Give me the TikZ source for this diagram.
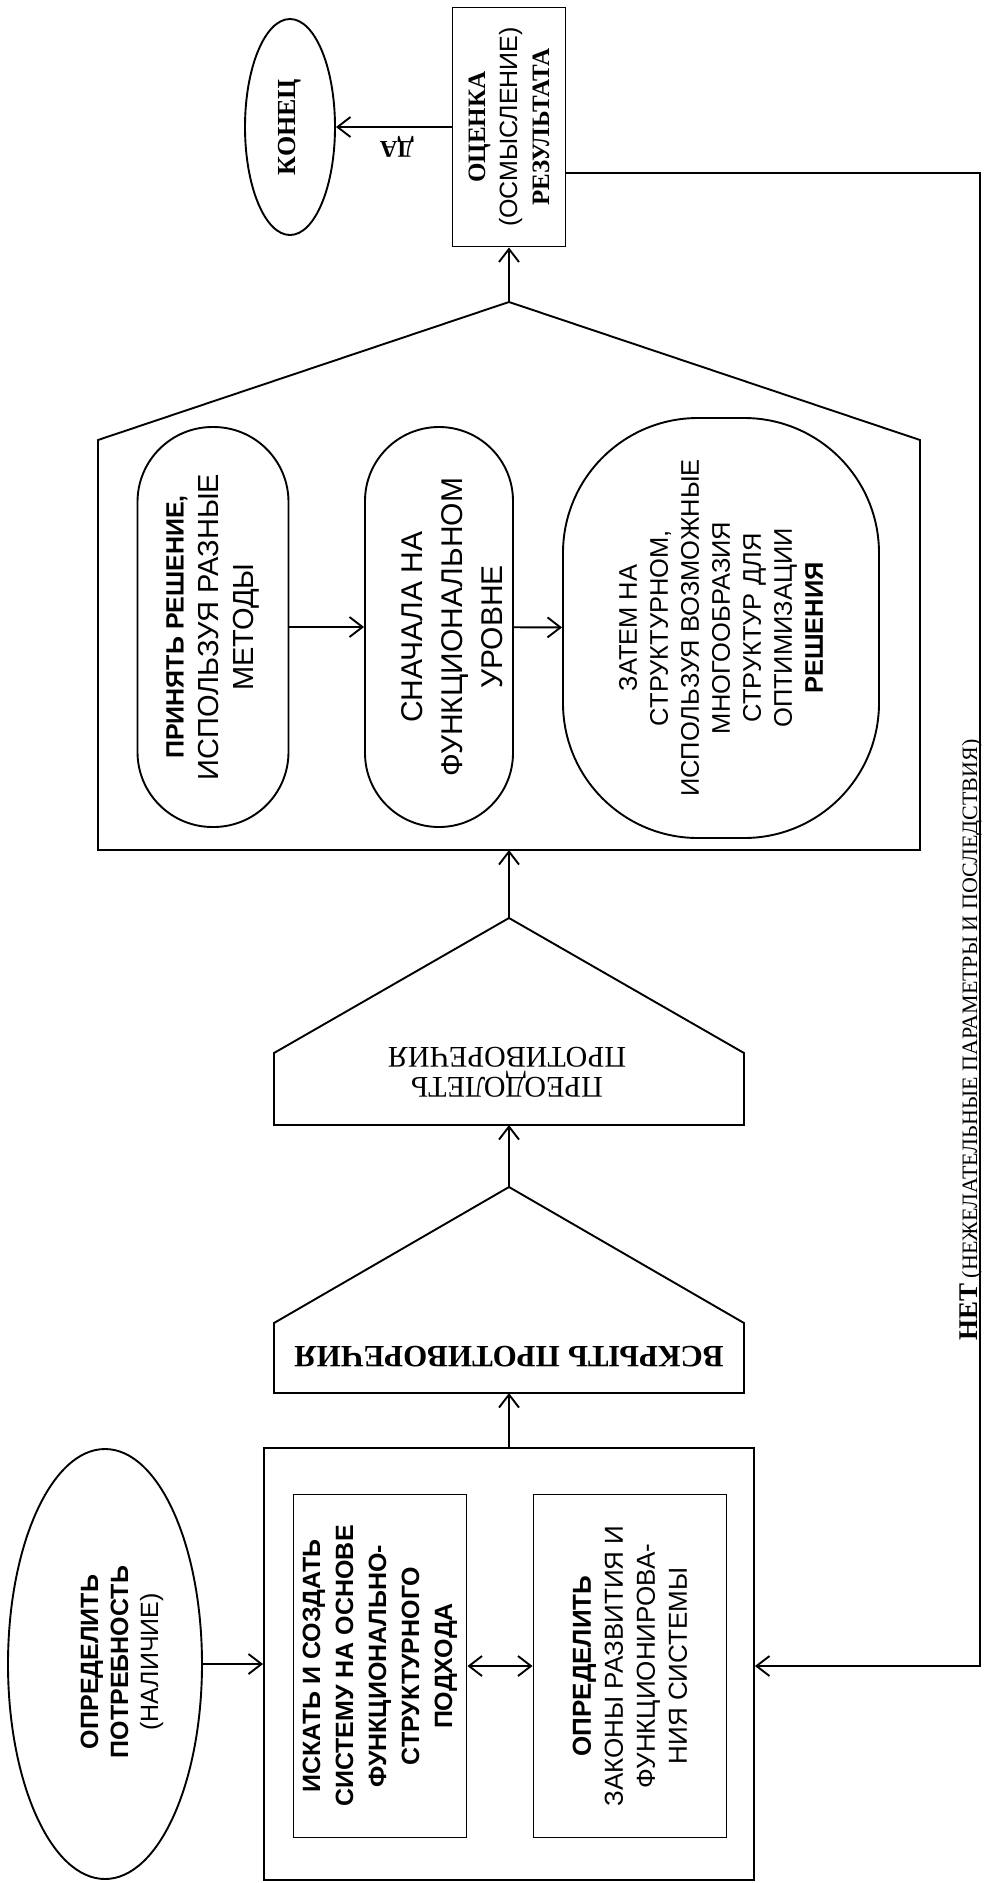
\documentclass[tikz,border=0pt]{standalone}
\usepackage{fontspec}
\setmainfont{Liberation Serif}
\setsansfont{Liberation Sans}
\usetikzlibrary{shapes.geometric,arrows.meta}

\newcommand{\fsz}[2]{\fontsize{#1}{#2}\selectfont}

\tikzset{
  lin/.style={line width=1.9pt},
  arr/.style={lin,-{Straight Barb[length=13pt,width=20pt]}},
  dblarr/.style={lin,{Straight Barb[length=13pt,width=20pt]}-{Straight Barb[length=13pt,width=20pt]}},
  box/.style={draw,lin,rectangle,inner sep=0pt,align=center},
  oval/.style={draw,lin,ellipse,inner sep=0pt,align=center},
  vtxt/.style={rotate=90,inner sep=0pt,align=center},
  utxt/.style={rotate=180,inner sep=0pt,align=center}
}

\begin{document}
\begin{tikzpicture}[x=1pt,y=-1pt]
    \useasboundingbox (0,0) rectangle (987,1883);

        % Оценка результата и конец
        \node[oval, rotate=90, minimum width=216pt, minimum height=90pt,
              font=\bfseries\fsz{26}{26}] (konec) at (290,127) {КОНЕЦ};
        \node[box, rotate=90, minimum width=239pt, minimum height=113pt,
              font=\fsz{25}{32}] (ocenka) at (509,127)
            {{\bfseries ОЦЕНКА}\\{\sffamily (ОСМЫСЛЕНИЕ)}\\{\bfseries РЕЗУЛЬТАТА}};
        \draw[arr] (ocenka) -- (konec);
        \node[utxt, font=\bfseries\fsz{24}{24}] (da) at (397,147) {ДА};

        % Большой пятиугольник
        \coordinate (big-top) at (509,302);
        \coordinate (big-bot) at (509,850);
        \draw[lin] (98,850) -- (98,440) -- (big-top) -- (920,440) -- (920,850) -- cycle;
        \draw[arr] (big-top) -- (ocenka);

        % Три блока решения
        \node[box, rotate=90, rounded corners=75pt, minimum width=400pt, minimum height=151pt,
              font=\sffamily\fsz{29}{35}] (b1) at (213,627)
            {{\bfseries\fsz{25}{35}ПРИНЯТЬ РЕШЕНИЕ,}\\ИСПОЛЬЗУЯ РАЗНЫЕ\\МЕТОДЫ};
        \node[box, rotate=90, rounded corners=74pt, minimum width=400pt, minimum height=148pt]
            (b2) at (439,627) {};
        \node[vtxt, font=\sffamily\fsz{30}{40}] (t-b2) at (452,627)
            {СНАЧАЛА НА\\ФУНКЦИОНАЛЬНОМ\\УРОВНЕ};
        \node[box, rotate=90, rounded corners=135pt, minimum width=420pt, minimum height=316pt,
              font=\sffamily\fsz{25.5}{31}] (b3) at (721,628)
            {ЗАТЕМ НА\\СТРУКТУРНОМ,\\ИСПОЛЬЗУЯ ВОЗМОЖНЫЕ\\МНОГООБРАЗИЯ\\СТРУКТУР ДЛЯ\\ОПТИМИЗАЦИИ\\{\bfseries РЕШЕНИЯ}};
        \draw[arr] (b1) -- (b2);
        \draw[arr] (b2) -- (b3);

        % Противоречия
        \foreach \nm/\a/\s/\b in {pr/918/1053/1125, vs/1187/1323/1393}{
            \coordinate (\nm-top) at (509,\a);
            \coordinate (\nm-bot) at (509,\b);
            \draw[lin] (274,\b) -- (274,\s) -- (\nm-top) -- (744,\s) -- (744,\b) -- cycle;
        }
        \node[utxt, font=\fsz{30}{30}] (t-pr) at (507,1072) {ПРЕОДОЛЕТЬ\\ПРОТИВОРЕЧИЯ};
        \node[utxt, font=\bfseries\fsz{31}{31}] (t-vs) at (509,1357) {ВСКРЫТЬ ПРОТИВОРЕЧИЯ};
        \draw[arr] (vs-top) -- (pr-bot);
        \draw[arr] (pr-top) -- (big-bot);

        % Система
        \node[box, minimum width=490pt, minimum height=432pt] (sys) at (509,1664) {};
        \node[box, rotate=90, minimum width=343pt, minimum height=173pt,
              font=\sffamily\bfseries\fsz{25}{33}] (inA) at (380,1666)
            {ИСКАТЬ И СОЗДАТЬ\\СИСТЕМУ НА ОСНОВЕ\\ФУНКЦИОНАЛЬНО-\\СТРУКТУРНОГО\\ПОДХОДА};
        \node[box, rotate=90, minimum width=343pt, minimum height=193pt,
              font=\sffamily\fsz{26}{32}] (inB) at (630,1666)
            {{\bfseries ОПРЕДЕЛИТЬ}\\ЗАКОНЫ РАЗВИТИЯ И\\ФУНКЦИОНИРОВА-\\НИЯ СИСТЕМЫ};
        \draw[dblarr] (inA) -- (inB);
        \draw[arr] (sys.north) -- (vs-bot);

        % Потребность
        \node[oval, minimum width=194pt, minimum height=430pt] (need) at (105,1664) {};
        \node[vtxt, font=\sffamily\fsz{25}{30}] (t-need) at (122,1662)
            {{\bfseries ОПРЕДЕЛИТЬ}\\{\bfseries ПОТРЕБНОСТЬ}\\(НАЛИЧИЕ)};
        \draw[arr] (need) -- (sys);

        % Обратная связь
        \coordinate (fb) at (980,1666);
        \draw[arr] ([yshift=-46pt]ocenka.south) -| (fb) -- (fb -| sys.east);
        \node[vtxt, anchor=base, font=\fsz{22}{22}] (net) at (977,1040)
            {{\bfseries\fsz{27}{27}НЕТ} (НЕЖЕЛАТЕЛЬНЫЕ ПАРАМЕТРЫ И ПОСЛЕДСТВИЯ)};

\end{tikzpicture}
\end{document}
